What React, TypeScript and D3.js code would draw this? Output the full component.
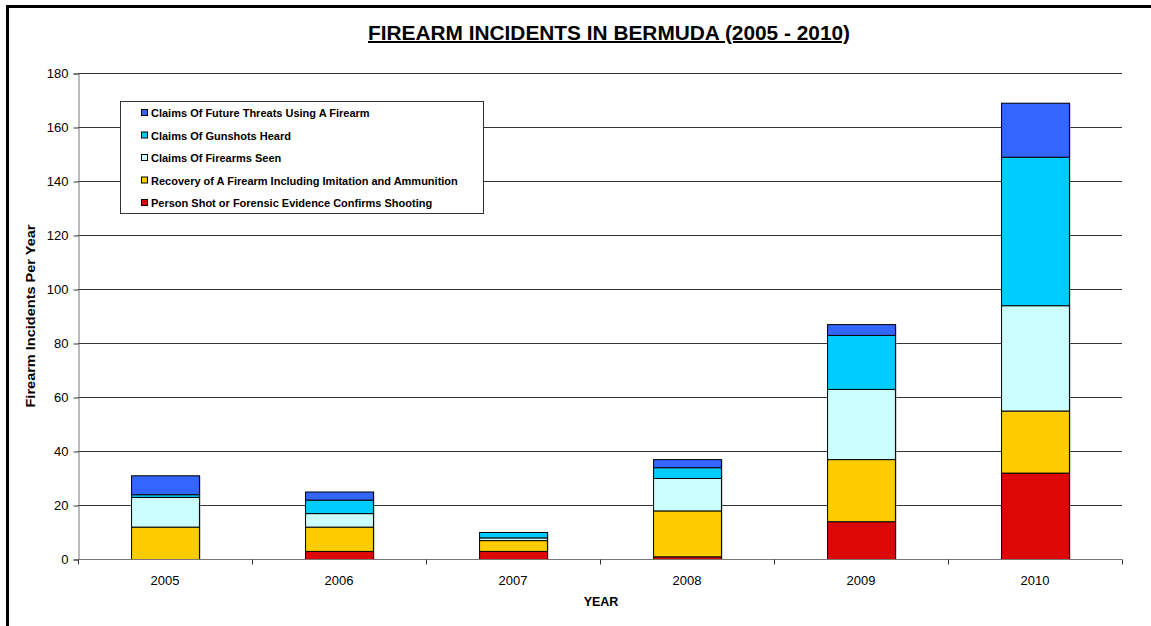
import React, { useRef, useEffect } from 'react';
import * as d3 from 'd3';

const years = ['2005', '2006', '2007', '2008', '2009', '2010'];
const shooting = [0, 3, 3, 1, 14, 32];
const recovery = [12, 9, 4, 17, 23, 23];
const seen = [11, 5, 1, 12, 26, 39];
const heard = [1, 5, 2, 4, 20, 55];
const threats = [7, 3, 0, 3, 4, 20];

const seriesNames = [
  'Person Shot or Forensic Evidence Confirms Shooting',
  'Recovery of A Firearm Including Imitation and Ammunition',
  'Claims Of Firearms Seen',
  'Claims Of Gunshots Heard',
  'Claims Of Future Threats Using A Firearm',
];
const seriesColors = ['#DD0806', '#FFCC00', '#CCFFFF', '#00CCFF', '#3366FF'];
const yTicks = [0, 20, 40, 60, 80, 100, 120, 140, 160, 180];

function App() {
  const ref = useRef<SVGSVGElement>(null);

  useEffect(() => {
    const svg = d3.select(ref.current);
    svg.selectAll('*').remove();

    const width = 1151;
    const height = 626;
    const margin = { top: 73, right: 29, bottom: 67, left: 78 };
    const font = 'Arial, "Liberation Sans", sans-serif';

    // chart frame (right and bottom edges fall outside the picture)
    svg.append('rect')
      .attr('x', 7.5).attr('y', 6.5)
      .attr('width', width + 10).attr('height', height + 10)
      .attr('fill', 'white').attr('stroke', 'black').attr('stroke-width', 3);

    const rows = years.map((y, i) => ({
      year: y, s0: shooting[i], s1: recovery[i], s2: seen[i], s3: heard[i], s4: threats[i],
    }));
    const keys = ['s0', 's1', 's2', 's3', 's4'];
    const stacked = d3.stack<any>().keys(keys)(rows);

    const x = d3.scaleBand()
      .domain(years)
      .range([margin.left, width - margin.right])
      .paddingInner(0.61).paddingOuter(0.305);
    const y = d3.scaleLinear()
      .domain([0, 180])
      .range([height - margin.bottom, margin.top]);

    // gridlines
    svg.append('g')
      .selectAll('line')
      .data(yTicks.slice(1))
      .enter().append('line')
      .attr('x1', margin.left).attr('x2', width - margin.right)
      .attr('y1', d => y(d) + 0.5).attr('y2', d => y(d) + 0.5)
      .attr('stroke', '#333').attr('stroke-width', 1);

    // y axis
    const yAxis = svg.append('g')
      .attr('transform', `translate(${margin.left + 0.5},0.5)`)
      .call(d3.axisLeft(y).tickValues(yTicks).tickSize(5).tickPadding(5));
    yAxis.select('.domain').attr('stroke', '#777');
    yAxis.selectAll('.tick line').attr('stroke', '#333');
    yAxis.selectAll('text').attr('font-family', font).attr('font-size', 13).attr('fill', '#000');

    // bars
    const step = x.step();
    stacked.forEach((layer, li) => {
      const g = svg.append('g');
      g.selectAll('rect.shadow')
        .data(layer.filter(d => d[1] - d[0] > 0))
        .enter().append('rect')
        .attr('x', d => (x(d.data.year) as number) + 1.5)
        .attr('y', d => y(d[1]) + 0.5)
        .attr('width', x.bandwidth())
        .attr('height', d => y(d[0]) - y(d[1]))
        .attr('fill', '#999');
      g.selectAll('rect.bar')
        .data(layer.filter(d => d[1] - d[0] > 0))
        .enter().append('rect')
        .attr('x', d => (x(d.data.year) as number) + 0.5)
        .attr('y', d => y(d[1]) + 0.5)
        .attr('width', x.bandwidth())
        .attr('height', d => y(d[0]) - y(d[1]))
        .attr('fill', seriesColors[li])
        .attr('stroke', '#000').attr('stroke-width', 1);
    });

    // x axis
    const xAxisG = svg.append('g')
      .attr('transform', `translate(0,${height - margin.bottom + 0.5})`);
    xAxisG.append('line')
      .attr('x1', margin.left).attr('x2', width - margin.right)
      .attr('stroke', '#777');
    xAxisG.selectAll('line.tick')
      .data(d3.range(years.length + 1))
      .enter().append('line')
      .attr('x1', i => margin.left + i * step + 0.5)
      .attr('x2', i => margin.left + i * step + 0.5)
      .attr('y1', 0).attr('y2', 5)
      .attr('stroke', '#333');
    xAxisG.selectAll('text')
      .data(years)
      .enter().append('text')
      .attr('x', d => (x(d) as number) + x.bandwidth() / 2)
      .attr('y', 25)
      .attr('text-anchor', 'middle')
      .attr('font-family', font).attr('font-size', 13)
      .text(d => d);

    // axis titles
    svg.append('text')
      .attr('x', 601).attr('y', 606)
      .attr('text-anchor', 'middle')
      .attr('font-family', font).attr('font-size', 12.5).attr('font-weight', 'bold')
      .text('YEAR');
    svg.append('text')
      .attr('transform', `translate(35,${(margin.top + height - margin.bottom) / 2}) rotate(-90)`)
      .attr('text-anchor', 'middle')
      .attr('font-family', font).attr('font-size', 13).attr('font-weight', 'bold')
      .attr('textLength', 183).attr('lengthAdjust', 'spacingAndGlyphs')
      .text('Firearm Incidents Per Year');

    // title
    svg.append('text')
      .attr('x', 609).attr('y', 40)
      .attr('text-anchor', 'middle')
      .attr('font-family', font).attr('font-size', 20).attr('font-weight', 'bold')
      .attr('text-decoration', 'underline')
      .attr('textLength', 482).attr('lengthAdjust', 'spacingAndGlyphs')
      .text('FIREARM INCIDENTS IN BERMUDA (2005 - 2010)');

    // legend
    const legend = svg.append('g');
    legend.append('rect')
      .attr('x', 120.5).attr('y', 101.5).attr('width', 363).attr('height', 112)
      .attr('fill', 'white').attr('stroke', '#333');
    const order = [4, 3, 2, 1, 0];
    order.forEach((si, i) => {
      const ly = 113 + i * 22.5;
      legend.append('rect')
        .attr('x', 141.5).attr('y', ly - 3.5).attr('width', 6).attr('height', 6)
        .attr('fill', seriesColors[si]).attr('stroke', '#000');
      legend.append('text')
        .attr('x', 151).attr('y', ly + 4)
        .attr('font-family', font).attr('font-size', 11).attr('font-weight', 'bold')
        .text(seriesNames[si]);
    });
  }, []);

  return (
    <svg ref={ref} width={1151} height={626} style={{ position: 'absolute', left: 0, top: 0 }}></svg>
  );
}

export default App;
